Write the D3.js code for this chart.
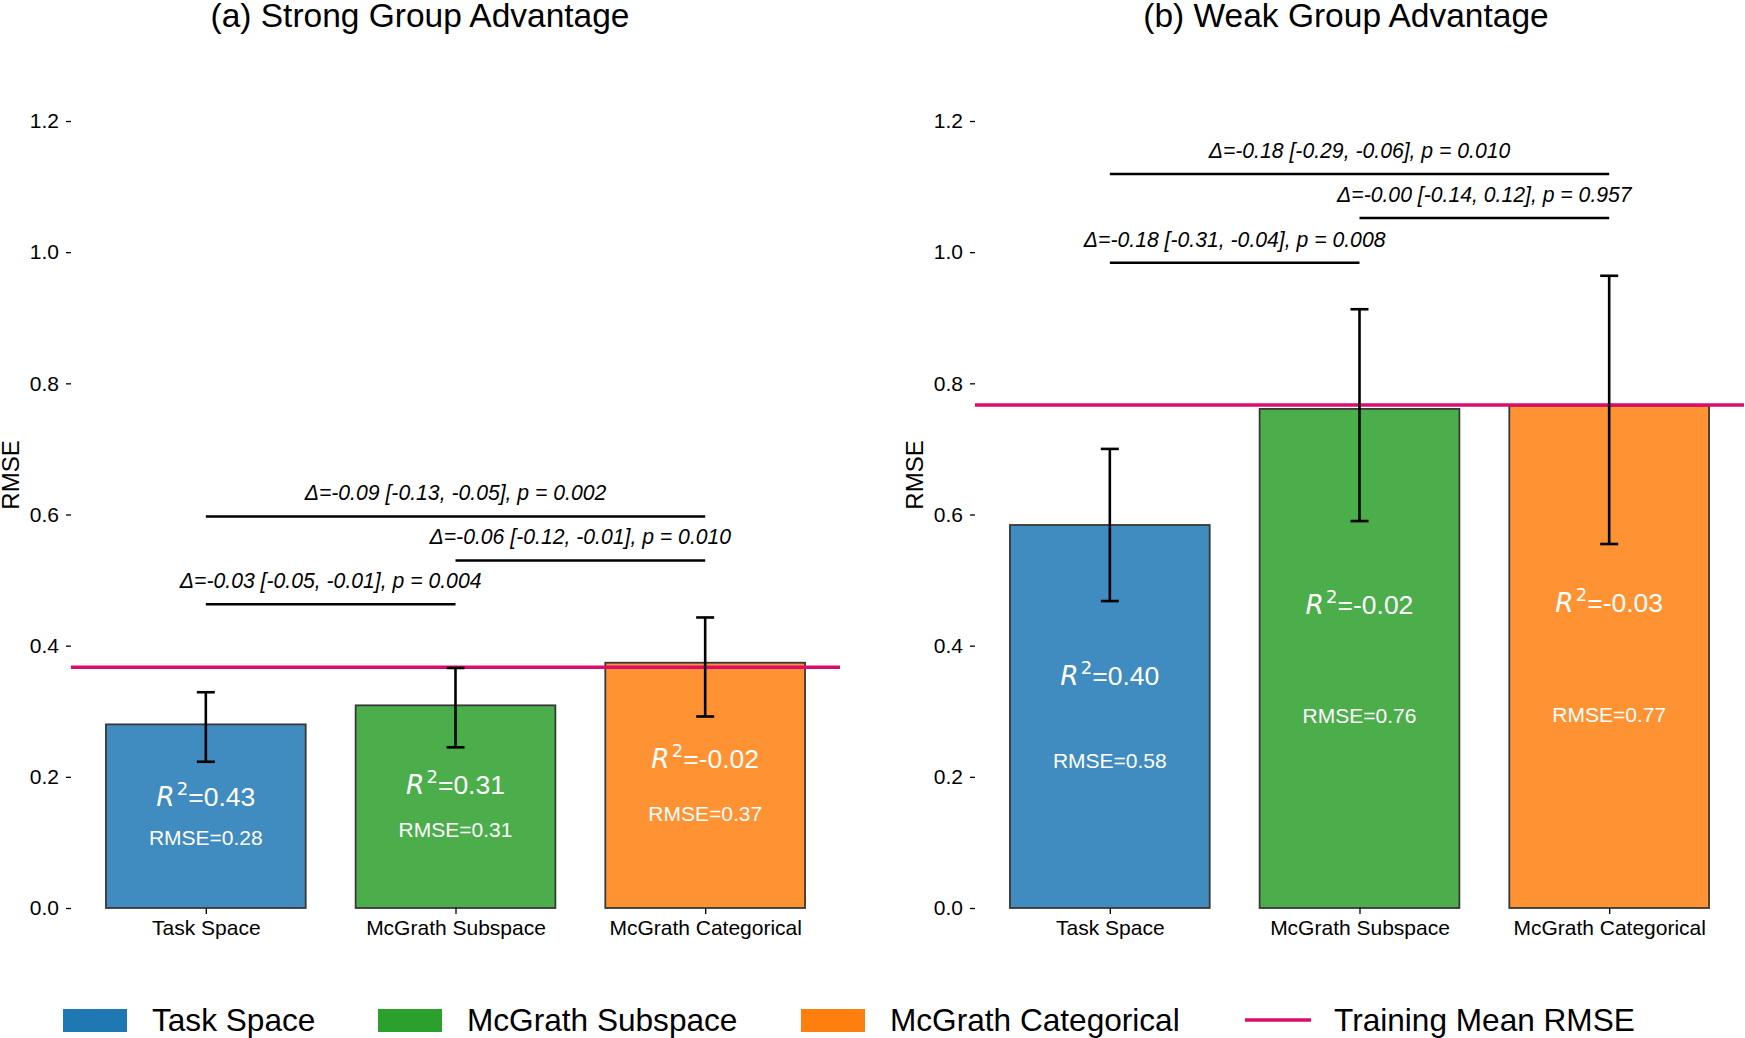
<!DOCTYPE html>
<meta charset="utf-8">
<html lang="en">
<head>
    <title>RMSE by representation - strong vs weak group advantage</title>
    <script src="https://d3js.org/d3.v7.min.js"></script>
    <style>
        body {
            margin: 0;
            background: #fff;
            font-family: "Liberation Sans", Arial, sans-serif;
        }
        .axis text {
            font: 21px "Liberation Sans", Arial, sans-serif;
            fill: #000;
        }
        .axis line {
            stroke: #000;
            stroke-width: 1.3;
        }
        .axis .domain {
            display: none;
        }
    </style>
</head>
<body>
    <svg width="1745" height="1038"></svg>
    <script>
        // categories and colours
        var categories = ["Task Space", "McGrath Subspace", "McGrath Categorical"];
        var colors = ["#1f77b4", "#2ca02c", "#ff7f0e"];
        var yTicks = [0.0, 0.2, 0.4, 0.6, 0.8, 1.0, 1.2];

        // (a) strong group advantage
        var strongRmse = [0.280, 0.309, 0.374];
        var strongLow = [0.223, 0.245, 0.292];
        var strongHigh = [0.329, 0.366, 0.443];
        var strongR2 = ["0.43", "0.31", "-0.02"];
        var strongTrainMean = 0.367;
        var strongCompY = [0.463, 0.530, 0.597];
        var strongCompText = ["Δ=-0.03 [-0.05, -0.01], p = 0.004",
            "Δ=-0.06 [-0.12, -0.01], p = 0.010",
            "Δ=-0.09 [-0.13, -0.05], p = 0.002"];

        // (b) weak group advantage
        var weakRmse = [0.584, 0.761, 0.766];
        var weakLow = [0.468, 0.590, 0.555];
        var weakHigh = [0.700, 0.913, 0.964];
        var weakR2 = ["0.40", "-0.02", "-0.03"];
        var weakTrainMean = 0.767;
        var weakCompY = [0.984, 1.052, 1.119];
        var weakCompText = ["Δ=-0.18 [-0.31, -0.04], p = 0.008",
            "Δ=-0.00 [-0.14, 0.12], p = 0.957",
            "Δ=-0.18 [-0.29, -0.06], p = 0.010"];

        // which bars each bracket joins
        var compFrom = [0, 1, 0];
        var compTo = [1, 2, 2];

        var svg = d3.select("svg");
        var trainColor = "#dc0c6c";

        var y = d3.scaleLinear().domain([0, 1.2]).range([908, 121]);

        function drawPanel(opt) {
            var x = d3.scaleLinear().domain([-0.54, 2.54]).range([opt.left, opt.left + 769]);
            var g = svg.append("g");
            var barW = x(0.8) - x(0);

            // title
            svg.append("text")
                .attr("x", opt.titleX)
                .attr("y", 27)
                .attr("text-anchor", "middle")
                .style("font-size", "33.5px")
                .text(opt.title);

            // y axis
            g.append("g")
                .attr("class", "axis")
                .attr("transform", "translate(" + opt.left + ",0)")
                .call(d3.axisLeft(y).tickValues(yTicks).tickSize(5).tickPadding(7)
                    .tickFormat(d3.format(".1f")));

            // y label
            g.append("text")
                .attr("transform", "translate(" + opt.labelX + ",475)rotate(-90)")
                .attr("text-anchor", "middle")
                .style("font-size", "24px")
                .text("RMSE");

            // bars
            g.selectAll(".bar")
                .data(opt.rmse)
                .enter().append("rect")
                .attr("class", "bar")
                .attr("x", function(d, i) { return x(i - 0.4); })
                .attr("y", function(d) { return y(d); })
                .attr("width", barW)
                .attr("height", function(d) { return y(0) - y(d); })
                .attr("fill", function(d, i) { return colors[i]; })
                .attr("fill-opacity", 0.85)
                .attr("stroke", "#383838")
                .attr("stroke-width", 1.8);

            // x axis
            g.append("g")
                .attr("class", "axis")
                .attr("transform", "translate(0," + y(0) + ")")
                .call(d3.axisBottom(x).tickValues([0, 1, 2]).tickSize(6).tickPadding(6)
                    .tickFormat(function(d) { return categories[d]; }));

            // training mean line
            g.append("line")
                .attr("x1", x(-0.54))
                .attr("x2", x(2.54))
                .attr("y1", y(opt.trainMean))
                .attr("y2", y(opt.trainMean))
                .attr("stroke", trainColor)
                .attr("stroke-width", 3.5);

            // error bars
            var err = g.selectAll(".err")
                .data(opt.rmse)
                .enter().append("g")
                .attr("class", "err")
                .attr("stroke", "#000")
                .attr("stroke-width", 2.6);
            err.append("line")
                .attr("x1", function(d, i) { return x(i); })
                .attr("x2", function(d, i) { return x(i); })
                .attr("y1", function(d, i) { return y(opt.low[i]); })
                .attr("y2", function(d, i) { return y(opt.high[i]); });
            [opt.low, opt.high].forEach(function(arr) {
                err.append("line")
                    .attr("x1", function(d, i) { return x(i) - 9; })
                    .attr("x2", function(d, i) { return x(i) + 9; })
                    .attr("y1", function(d, i) { return y(arr[i]); })
                    .attr("y2", function(d, i) { return y(arr[i]); });
            });

            // R2 and RMSE labels inside bars
            var r2 = g.selectAll(".r2")
                .data(opt.rmse)
                .enter().append("text")
                .attr("class", "r2")
                .attr("x", function(d, i) { return x(i); })
                .attr("y", function(d) { return y(d * 0.607) + 9; })
                .attr("text-anchor", "middle")
                .attr("fill", "#fff")
                .style("font-size", "26.5px");
            r2.append("tspan")
                .style("font-family", "'DejaVu Sans'")
                .style("font-style", "italic")
                .text("R");
            r2.append("tspan")
                .style("font-family", "'DejaVu Sans'")
                .style("font-size", "18px")
                .attr("dx", 2)
                .attr("dy", -11)
                .text("2");
            r2.append("tspan")
                .attr("dy", 11)
                .text(function(d, i) { return "=" + opt.r2[i]; });

            g.selectAll(".rm")
                .data(opt.rmse)
                .enter().append("text")
                .attr("class", "rm")
                .attr("x", function(d, i) { return x(i); })
                .attr("y", function(d) { return y(d * 0.386) + 7.5; })
                .attr("text-anchor", "middle")
                .attr("fill", "#fff")
                .style("font-size", "21px")
                .text(function(d) { return "RMSE=" + d.toFixed(2); });

            // comparison brackets
            g.selectAll(".comp")
                .data(opt.compY)
                .enter().append("line")
                .attr("class", "comp")
                .attr("x1", function(d, i) { return x(compFrom[i]); })
                .attr("x2", function(d, i) { return x(compTo[i]); })
                .attr("y1", function(d) { return y(d); })
                .attr("y2", function(d) { return y(d); })
                .attr("stroke", "#000")
                .attr("stroke-width", 2.5);

            g.selectAll(".compText")
                .data(opt.compY)
                .enter().append("text")
                .attr("class", "compText")
                .attr("x", function(d, i) { return x((compFrom[i] + compTo[i]) / 2); })
                .attr("y", function(d) { return y(d) - 16; })
                .attr("text-anchor", "middle")
                .style("font-size", "21.2px")
                .style("font-style", "italic")
                .text(function(d, i) { return opt.compText[i]; });
        }

        drawPanel({
            left: 71, titleX: 420, labelX: 19,
            title: "(a) Strong Group Advantage",
            rmse: strongRmse, low: strongLow, high: strongHigh, r2: strongR2,
            trainMean: strongTrainMean, compY: strongCompY, compText: strongCompText
        });
        drawPanel({
            left: 975, titleX: 1346, labelX: 923,
            title: "(b) Weak Group Advantage",
            rmse: weakRmse, low: weakLow, high: weakHigh, r2: weakR2,
            trainMean: weakTrainMean, compY: weakCompY, compText: weakCompText
        });

        // Legend
        var legendItems = categories.concat(["Training Mean RMSE"]);
        var legendX = [63, 378, 801, 1245];
        var legend = svg.append("g")
            .selectAll("g")
            .data(legendItems)
            .enter().append("g")
            .attr("transform", function(d, i) { return "translate(" + legendX[i] + ",1020)"; });

        legend.filter(function(d, i) { return i < 3; })
            .append("rect")
            .attr("y", -11)
            .attr("width", 64)
            .attr("height", 23)
            .attr("fill", function(d, i) { return colors[i]; });

        legend.filter(function(d, i) { return i === 3; })
            .append("line")
            .attr("x1", 0)
            .attr("x2", 66)
            .attr("stroke", trainColor)
            .attr("stroke-width", 3.5);

        legend.append("text")
            .attr("x", 89)
            .attr("y", 11)
            .style("font-size", "31.6px")
            .text(function(d) { return d; });
    </script>
</body>
</html>
